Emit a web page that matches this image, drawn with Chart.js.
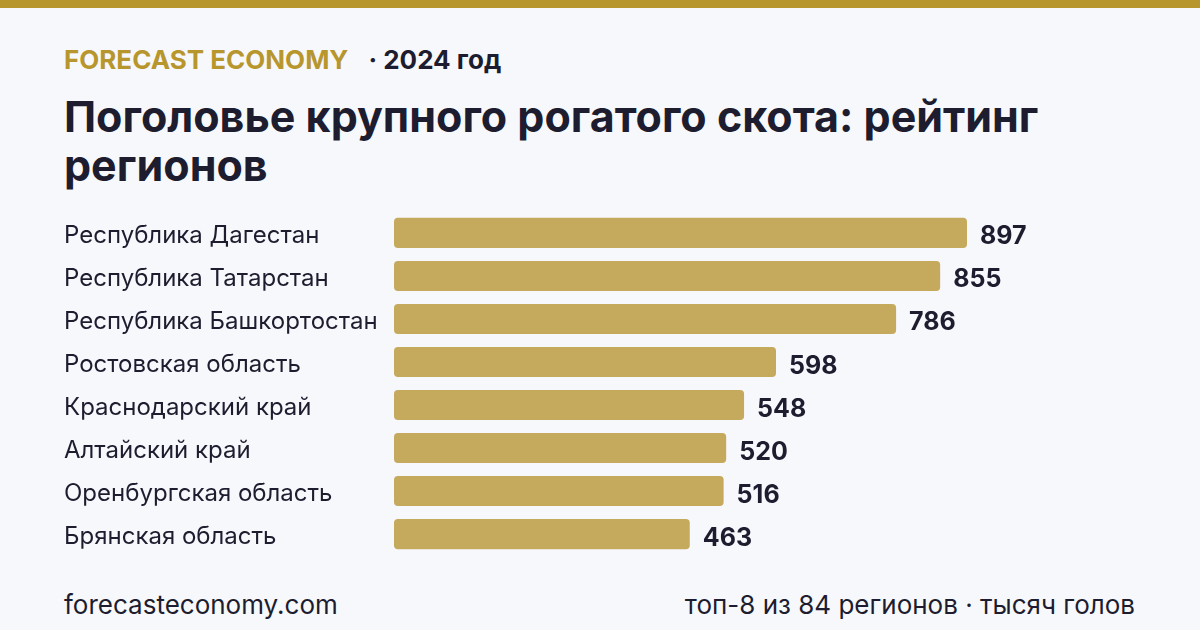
<!DOCTYPE html>
<html><head><meta charset="utf-8">
<script src="https://cdn.jsdelivr.net/npm/chart.js@4/dist/chart.umd.min.js"></script>
<style>
html,body{margin:0;padding:0;}
body{width:1200px;height:630px;background:#f7f8fc;position:relative;overflow:hidden;font-family:Inter,"Noto Sans",sans-serif;color:#1d1d2f;}
#topbar{position:absolute;left:0;top:0;width:1200px;height:8px;background:#b8962e;}
#brand{position:absolute;left:64px;top:44px;font-size:26px;font-weight:700;line-height:32px;white-space:nowrap;}
#brand .b{color:#b8962e;}
#brand .y{color:#1d1d2f;margin-left:20px;}
#title{position:absolute;left:64px;top:92px;width:1100px;font-size:43px;font-weight:700;line-height:49px;color:#1d1d2f;}
#chartwrap{position:absolute;left:0;top:197px;width:1200px;height:373px;}
#foot-l{position:absolute;left:64px;top:589px;font-size:26px;line-height:32px;}
#foot-r{position:absolute;right:65px;top:589px;font-size:26px;line-height:32px;}
</style></head>
<body>
<div id="topbar"></div>
<div id="brand"><span class="b">FORECAST ECONOMY</span><span class="y">· 2024 год</span></div>
<div id="title">Поголовье крупного рогатого скота: рейтинг регионов</div>
<div id="chartwrap"><canvas id="c"></canvas></div>
<div id="foot-l">forecasteconomy.com</div>
<div id="foot-r">топ-8 из 84 регионов · тысяч голов</div>
<script>
const categories = ["Республика Дагестан","Республика Татарстан","Республика Башкортостан","Ростовская область","Краснодарский край","Алтайский край","Оренбургская область","Брянская область"];
const values = [897, 855, 786, 598, 548, 520, 516, 463];

const valueLabels = {
  id: 'valueLabels',
  afterDatasetsDraw(chart) {
    const ctx = chart.ctx;
    const meta = chart.getDatasetMeta(0);
    ctx.save();
    ctx.font = '700 25px Inter, "Noto Sans", sans-serif';
    ctx.fillStyle = '#1d1d2f';
    ctx.textAlign = 'left';
    ctx.textBaseline = 'middle';
    meta.data.forEach((bar, i) => {
      ctx.fillText(String(values[i]), bar.x + 13, bar.y + 4);
    });
    ctx.restore();
  }
};

new Chart(document.getElementById('c'), {
  type: 'bar',
  data: { labels: categories, datasets: [{ data: values, backgroundColor: '#c5a95c', borderRadius: 4, borderSkipped: false, barPercentage: 0.7, categoryPercentage: 1.0 }] },
  options: {
    indexAxis: 'y',
    responsive: true,
    maintainAspectRatio: false,
    animation: false,
    layout: { padding: { left: 64, right: 65, top: 0, bottom: 0 } },
    plugins: { legend: { display: false }, tooltip: { enabled: false } },
    scales: {
      x: { display: false, min: 0, max: 1160 },
      y: {
        grid: { display: false, drawTicks: false },
        border: { display: false },
        ticks: { crossAlign: 'far', labelOffset: 3, color: '#1d1d2f', font: { family: 'Inter, "Noto Sans", sans-serif', size: 24 }, padding: 0 },
        afterFit(scale) { scale.width = 330; }
      }
    }
  },
  plugins: [valueLabels]
});
</script>
</body></html>
